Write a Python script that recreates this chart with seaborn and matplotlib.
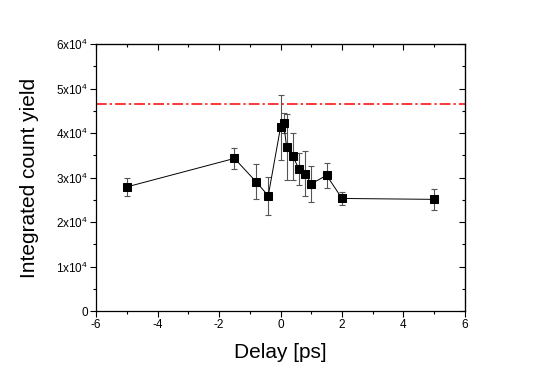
import matplotlib
matplotlib.use("Agg")
import matplotlib.pyplot as plt
import seaborn as sns
import pandas as pd

# delay in ps, integrated counts, error
delay = [-5.0, -1.5, -0.8, -0.4, 0.0, 0.1, 0.2, 0.4, 0.6, 0.8, 1.0, 1.5, 2.0, 5.0]
counts = [27900, 34300, 29100, 25900, 41300, 42200, 36800, 34800, 31900, 30900, 28600, 30500, 25300, 25100]
errors = [2100, 2300, 4000, 4300, 7300, 2200, 7400, 5300, 3600, 5100, 4000, 2800, 1500, 2300]
reference_level = 46500

x_ticks = [-6, -4, -2, 0, 2, 4, 6]
y_ticks = [0, 10000, 20000, 30000, 40000, 50000, 60000]
y_tick_labels = ["0"] + [r"$\mathregular{%dx10^4}$" % i for i in range(1, 7)]

sns.set_style("ticks")
plt.rcParams["font.family"] = ["Liberation Sans", "DejaVu Sans"]
plt.rcParams["mathtext.fontset"] = "custom"
plt.rcParams["mathtext.rm"] = "Liberation Sans"
plt.rcParams["axes.unicode_minus"] = False
plt.rcParams["text.color"] = "black"
plt.rcParams["axes.labelcolor"] = "black"
plt.rcParams["xtick.color"] = "black"
plt.rcParams["ytick.color"] = "black"
plt.rcParams["axes.edgecolor"] = "black"

df = pd.DataFrame({"delay": delay, "counts": counts})

fig = plt.figure(figsize=(5.4, 3.73), dpi=100)
ax = fig.add_axes([0.178, 0.166, 0.683, 0.716])

ax.errorbar(delay, counts, yerr=errors, fmt="none", ecolor="#555555",
            elinewidth=0.8, capsize=2.5, capthick=0.8, zorder=2)
sns.lineplot(data=df, x="delay", y="counts", ax=ax, color="black", lw=0.7,
             marker="s", markersize=5.5, markeredgecolor="black", zorder=3,
             sort=False)
ax.axhline(reference_level, color="red", lw=1.1, dashes=(7, 2, 1.5, 2), zorder=1)

ax.set_xlim(-6, 6)
ax.set_ylim(0, 60000)
ax.set_xticks(x_ticks)
ax.set_xticks([-5, -3, -1, 1, 3, 5], minor=True)
ax.set_yticks(y_ticks)
ax.set_yticklabels(y_tick_labels)
ax.set_yticks([5000, 15000, 25000, 35000, 45000, 55000], minor=True)
ax.tick_params(which="major", direction="out", length=4, width=0.8, labelsize=8.5, pad=2)
ax.tick_params(which="minor", direction="out", length=2.5, width=0.8)

# inward ticks on top and right
top = ax.secondary_xaxis("top")
top.set_xticks(x_ticks)
top.set_xticks([-5, -3, -1, 1, 3, 5], minor=True)
top.tick_params(which="both", direction="in", labeltop=False, width=0.8)
top.tick_params(which="major", length=4)
top.tick_params(which="minor", length=2.5)
right = ax.secondary_yaxis("right")
right.set_yticks(y_ticks)
right.set_yticks([5000, 15000, 25000, 35000, 45000, 55000], minor=True)
right.tick_params(which="both", direction="in", labelright=False, width=0.8)
right.tick_params(which="major", length=4)
right.tick_params(which="minor", length=2.5)

for s in ax.spines.values():
    s.set_linewidth(0.9)
    s.set_visible(True)

ax.set_xlabel("Delay [ps]", fontsize=15, labelpad=8)
ax.set_ylabel("Integrated count yield", fontsize=15, labelpad=12)

fig.savefig("out.png", dpi=100)
